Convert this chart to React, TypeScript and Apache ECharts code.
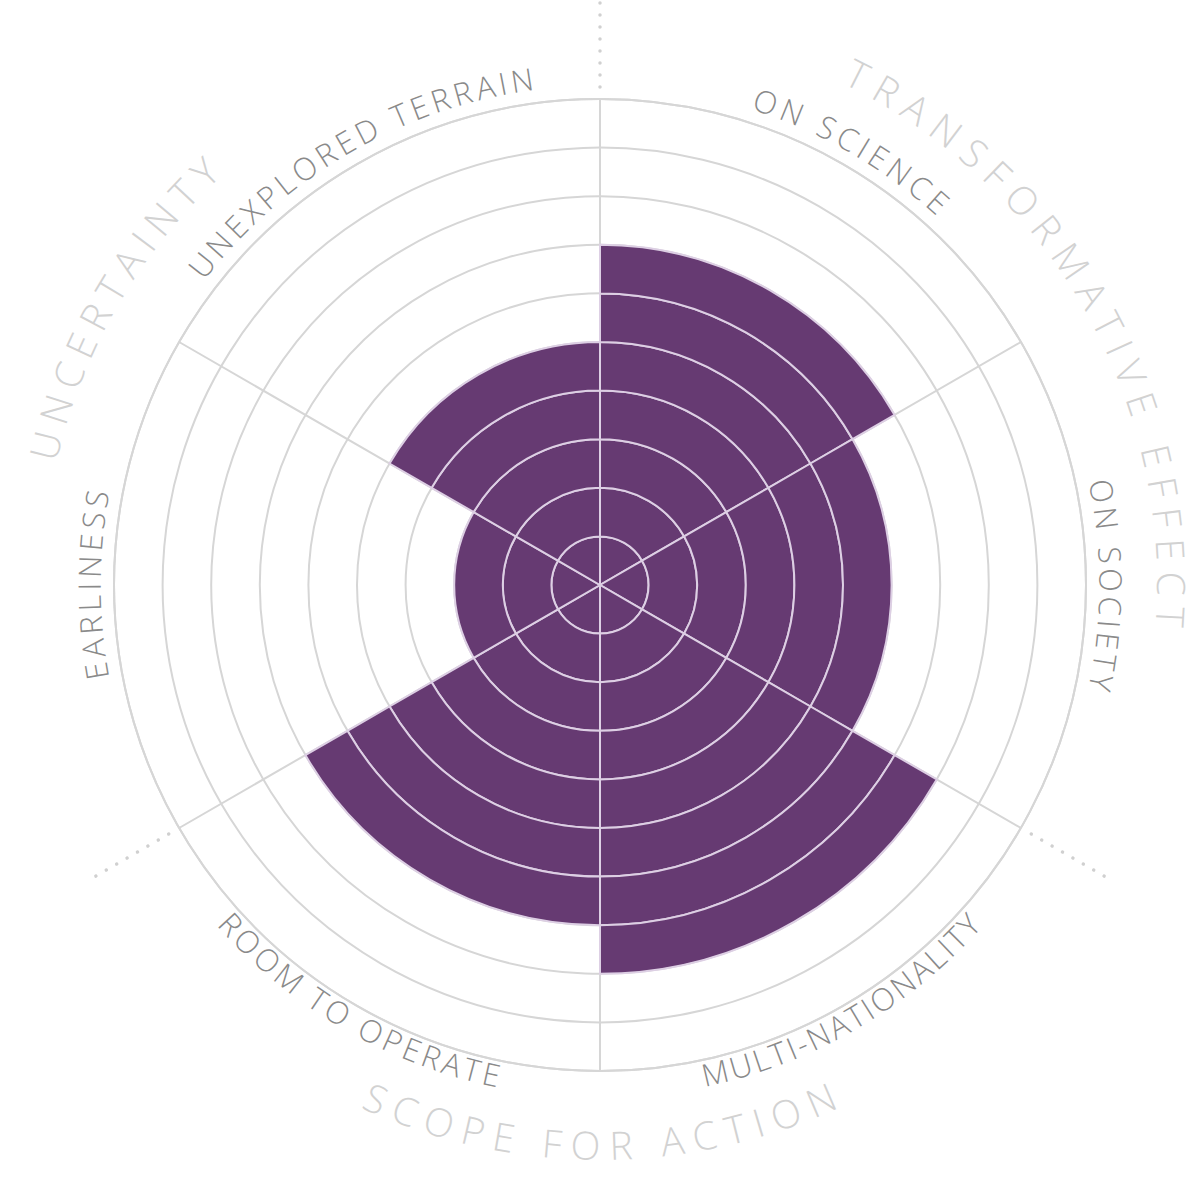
import React, { useEffect, useRef } from 'react';
import * as echarts from 'echarts';

// ---- data ----
const categories = ['ON SCIENCE', 'ON SOCIETY', 'MULTI-NATIONALITY', 'ROOM TO OPERATE', 'EARLINESS', 'UNEXPLORED TERRAIN'];
const values = [7, 6, 8, 7, 3, 5];
const groupLabels = ['TRANSFORMATIVE EFFECT', 'SCOPE FOR ACTION', 'UNCERTAINTY'];
const scaleMax = 10;

// ---- layout / style ----
const CX = 600;
const CY = 585;
const R = 486;
const GRID = '#d6d6d6';
const PURPLE = '#663a72';
const LAVENDER = '#ddcfe4';
const INNER_COLOR = '#8a8a8a';
const OUTER_COLOR = '#d2d2d2';
const FONT = "'Open Sans'";
const innerSpans = [24.8, 23.9, 36.5, 36.9, 21.3, 45.0];
const groupCenters = [60, 180, 300];
const groupSpans = [68.5, 49.3, 34.6];
const INNER_R = 506;
const OUTER_R = 566;

function arcText(ctx: CanvasRenderingContext2D, text: string, centerDeg: number, r: number, span: number, size: number, color: string, weight: number) {
  const font = `${weight} ${size}px ${FONT}`;
  ctx.font = font;
  const chars = Array.from(text);
  const widths = chars.map((c) => ctx.measureText(c).width);
  const total = widths.reduce((a, b) => a + b, 0);
  const arcLen = (span * Math.PI / 180) * r;
  const gap = (arcLen - total) / (chars.length - 1);
  const inward = centerDeg > 90.5 && centerDeg < 269.5;
  const dir = inward ? -1 : 1;
  const k = 0.17 * size;
  const rr = r + (inward ? -k : k);
  let s = -arcLen / 2;
  return chars.map((c, i) => {
    const mid = s + widths[i] / 2;
    s += widths[i] + gap;
    const a = (centerDeg * Math.PI) / 180 + (dir * mid) / r;
    const x = CX + rr * Math.sin(a);
    const y = CY - rr * Math.cos(a);
    const rot = inward ? Math.PI - a : -a;
    return {
      type: 'text',
      x,
      y,
      rotation: rot,
      silent: true,
      style: {
        text: c,
        fill: color,
        font,
        lineHeight: size,
        textAlign: 'center',
        textVerticalAlign: 'middle',
        align: 'center',
        verticalAlign: 'middle',
      },
    };
  });
}

export default function App() {
  const ref = useRef<HTMLDivElement>(null);
  useEffect(() => {
    document.body.style.margin = '0';
    if (!ref.current) return;
    const chart = echarts.init(ref.current, undefined, { renderer: 'svg' });
    const canvas = document.createElement('canvas');
    const ctx = canvas.getContext('2d') as CanvasRenderingContext2D;

    const segments = Array.from({ length: scaleMax }, (_, k) => values.map((v) => (v > k ? 1 : null)));

    const graphics: any[] = [];
    categories.forEach((c, i) => {
      graphics.push(...arcText(ctx, c, 30 + 60 * i, INNER_R, innerSpans[i], 31, INNER_COLOR, 300));
    });
    groupLabels.forEach((g, i) => {
      graphics.push(...arcText(ctx, g, groupCenters[i], OUTER_R, groupSpans[i], 39, OUTER_COLOR, 300));
    });
    [0, 120, 240].forEach((deg) => {
      const a = (deg * Math.PI) / 180;
      const r1 = 498;
      const r2 = 582.5;
      graphics.push({
        type: 'line',
        silent: true,
        shape: {
          x1: CX + r1 * Math.sin(a),
          y1: CY - r1 * Math.cos(a),
          x2: CX + r2 * Math.sin(a),
          y2: CY - r2 * Math.cos(a),
        },
        style: { stroke: '#d0d0d0', lineWidth: 3.5, lineDash: [0.01, 12], lineCap: 'round' },
      });
    });

    chart.setOption({
      animation: false,
      backgroundColor: '#ffffff',
      polar: { center: [CX, CY], radius: R },
      angleAxis: {
        type: 'category',
        data: categories,
        startAngle: 90,
        clockwise: true,
        boundaryGap: true,
        axisLine: { show: true, lineStyle: { color: GRID, width: 2 } },
        axisTick: { show: false },
        axisLabel: { show: false },
        splitLine: { show: true, lineStyle: { color: GRID, width: 2 } },
      },
      radiusAxis: {
        type: 'value',
        min: 0,
        max: scaleMax,
        interval: 1,
        axisLine: { show: false },
        axisTick: { show: false },
        axisLabel: { show: false },
        splitLine: { show: true, lineStyle: { color: GRID, width: 2 } },
      },
      series: segments.map((d, k) => ({
        type: 'bar',
        name: 'level' + (k + 1),
        coordinateSystem: 'polar',
        stack: 'score',
        barCategoryGap: '0%',
        data: d,
        itemStyle: { color: PURPLE, borderColor: LAVENDER, borderWidth: 2 },
        silent: true,
      })),
      graphic: graphics,
    });
    return () => chart.dispose();
  }, []);
  return <div ref={ref} style={{ width: 1200, height: 1200 }} />;
}
